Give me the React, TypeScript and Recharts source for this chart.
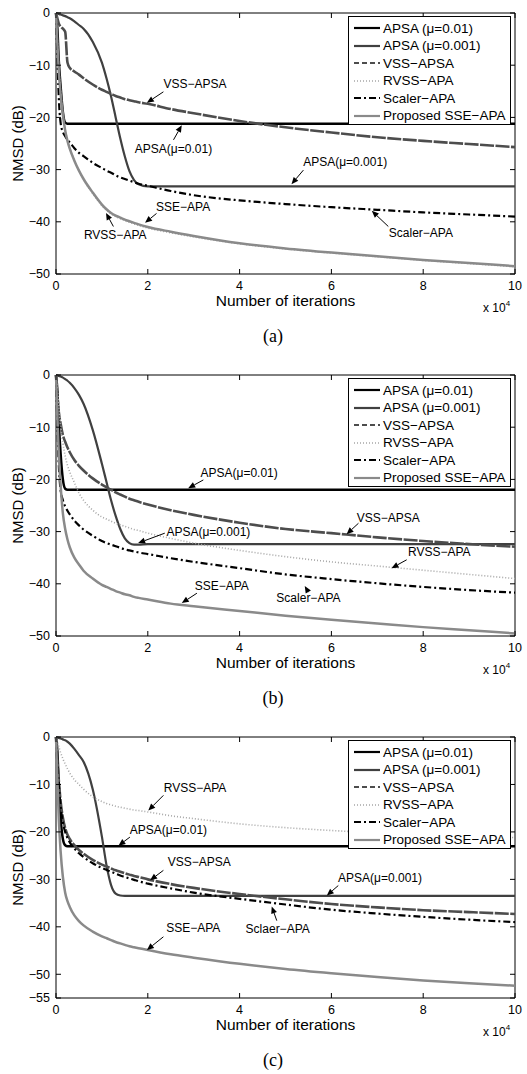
import React from 'react'
import { LineChart, Line, XAxis, YAxis, Legend, ReferenceLine, ReferenceDot, ReferenceArea } from 'recharts'

// iterations, in units of 10^4
const ITER = [0, 0.03, 0.06, 0.1, 0.15, 0.2, 0.25, 0.3, 0.4, 0.5, 0.6, 0.8, 1.0, 1.1, 1.2, 1.3, 1.4, 1.5, 1.6, 1.7, 1.8, 2.0, 2.5, 3, 4, 5, 6, 7, 8, 9, 10]
const X_TICKS = [0, 2, 4, 6, 8, 10]

// (a)
const A_APSA_01 = [0, -3, -9, -14, -19, -21, -21.2, -21.2, -21.2, -21.2, -21.2, -21.2, -21.2, -21.2, -21.2, -21.2, -21.2, -21.2, -21.2, -21.2, -21.2, -21.2, -21.2, -21.2, -21.2, -21.2, -21.2, -21.2, -21.2, -21.2, -21.2]
const A_APSA_001 = [0, -0.1, -0.2, -0.3, -0.45, -0.6, -0.8, -1.0, -1.6, -2.3, -3.0, -5.5, -9.5, -12.5, -16, -20, -24, -27.5, -30.3, -32, -32.8, -33.2, -33.2, -33.2, -33.2, -33.2, -33.2, -33.2, -33.2, -33.2, -33.2]
const A_VSS = [0, -1, -2, -2.6, -3, -3.6, -9.5, -10.5, -11.2, -11.8, -12.5, -13.7, -14.7, -15.1, -15.5, -15.9, -16.2, -16.5, -16.7, -16.9, -17.1, -17.4, -18.4, -19.2, -20.7, -21.9, -22.9, -23.8, -24.5, -25.1, -25.7]
const A_RVSS = [0, -5.5, -10.5, -15, -19.2, -22.3, -24.4, -25.9, -28.2, -30.2, -31.9, -34.6, -36.9, -37.8, -38.5, -39.0, -39.4, -39.8, -40.1, -40.4, -40.7, -41.2, -42.1, -42.9, -44.2, -45.2, -46.0, -46.7, -47.4, -48.0, -48.6]
const A_SCALER = [0, -8, -16, -21, -22.8, -23.6, -24.3, -24.8, -25.9, -26.8, -27.4, -28.7, -29.7, -30.2, -30.6, -31.1, -31.5, -31.8, -32.1, -32.4, -32.7, -33.1, -34.1, -34.9, -35.9, -36.6, -37.2, -37.7, -38.2, -38.6, -39.0]
const A_SSE = [0, -6, -11, -15.5, -19.5, -22.5, -24.5, -26, -28.3, -30.2, -31.8, -34.4, -36.7, -37.6, -38.3, -38.8, -39.2, -39.6, -39.9, -40.2, -40.5, -41.0, -41.9, -42.7, -44.1, -45.1, -45.9, -46.6, -47.3, -47.9, -48.5]

// (b)
const B_APSA_01 = [0, -3, -9, -15, -20, -21.8, -22, -22, -22, -22, -22, -22, -22, -22, -22, -22, -22, -22, -22, -22, -22, -22, -22, -22, -22, -22, -22, -22, -22, -22, -22]
const B_APSA_001 = [0, -0.1, -0.2, -0.3, -0.5, -0.8, -1.1, -1.5, -2.5, -3.8, -5.5, -10.5, -17, -20.5, -24, -27, -29.5, -31.3, -32.2, -32.5, -32.5, -32.4, -32.4, -32.4, -32.4, -32.4, -32.4, -32.4, -32.4, -32.4, -32.4]
const B_VSS = [0, -4, -7, -9.3, -11.5, -12.8, -13.9, -14.8, -16.3, -17.4, -18.3, -19.8, -21.0, -21.5, -22.0, -22.5, -22.9, -23.3, -23.7, -24.0, -24.3, -24.8, -25.9, -26.8, -28.3, -29.5, -30.3, -31.1, -31.8, -32.4, -32.9]
const B_RVSS = [0, -3, -6, -9.5, -13, -15.5, -17.3, -18.6, -20.6, -22.6, -24.0, -25.9, -27.2, -27.6, -28.0, -28.4, -28.7, -29.0, -29.3, -29.6, -29.8, -30.3, -31.3, -32.2, -33.6, -34.8, -35.8, -36.6, -37.4, -38.2, -39.0]
const B_SCALER = [0, -9, -17, -22, -24, -25.2, -26, -26.7, -27.9, -28.8, -29.6, -30.8, -31.8, -32.2, -32.5, -32.8, -33.1, -33.4, -33.6, -33.8, -34.0, -34.3, -35.1, -35.8, -37.0, -38.2, -39.1, -39.9, -40.6, -41.2, -41.7]
const B_SSE = [0, -8, -15, -21, -26.5, -29.5, -31.5, -33, -35, -36.3, -37.5, -39.0, -40.2, -40.6, -41.0, -41.4, -41.7, -42.0, -42.2, -42.5, -42.7, -43.0, -43.8, -44.3, -45.2, -46.1, -46.9, -47.6, -48.3, -48.9, -49.5]

// (c)
const C_APSA_01 = [0, -3, -10, -17, -21.5, -22.8, -23, -23, -23, -23, -23, -23, -23, -23, -23, -23, -23, -23, -23, -23, -23, -23, -23, -23, -23, -23, -23, -23, -23, -23, -23]
const C_APSA_001 = [0, -0.1, -0.2, -0.3, -0.5, -0.7, -1.0, -1.4, -2.5, -3.8, -5.2, -11, -21, -27, -31.2, -33, -33.4, -33.5, -33.5, -33.5, -33.5, -33.5, -33.5, -33.5, -33.5, -33.5, -33.5, -33.5, -33.5, -33.5, -33.5]
const C_VSS = [0, -5, -9, -13.5, -17, -19.2, -20.6, -21.5, -22.8, -23.8, -24.6, -25.9, -26.9, -27.3, -27.7, -28.1, -28.4, -28.7, -29.0, -29.3, -29.5, -30.0, -31.0, -31.8, -33.1, -34.2, -35.2, -35.9, -36.5, -36.9, -37.3]
const C_RVSS = [0, -1, -2, -3.3, -4.6, -5.7, -6.7, -7.6, -9.0, -10.0, -11.0, -12.6, -13.6, -14.0, -14.3, -14.6, -14.8, -15.0, -15.2, -15.4, -15.5, -15.8, -16.6, -17.2, -18.3, -19.1, -19.7, -20.2, -20.6, -20.9, -21.2]
const C_SCALER = [0, -6, -10, -14.5, -18, -20, -21.3, -22.2, -23.5, -24.5, -25.3, -26.6, -27.6, -28.0, -28.4, -28.8, -29.2, -29.5, -29.8, -30.1, -30.4, -30.9, -31.9, -32.8, -34.1, -35.3, -36.4, -37.2, -37.9, -38.5, -39.0]
const C_SSE = [0, -9, -17, -24, -29.5, -32.8, -34.6, -35.8, -37.6, -38.8, -39.7, -41.0, -42.0, -42.4, -42.8, -43.2, -43.5, -43.8, -44.1, -44.3, -44.5, -44.9, -45.8, -46.5, -47.8, -48.9, -49.8, -50.6, -51.3, -51.9, -52.4]

// annotations: label, text centre, arrow tail, arrow tip (data coords)
const A_NOTES = [
  { label: 'VSS−APSA', at: [3.03, -13.6], from: [2.34, -15.1], to: [1.98, -17.2] },
  { label: 'APSA(μ=0.01)', at: [2.56, -26.1], from: [2.56, -24.3], to: [2.74, -21.5] },
  { label: 'APSA(μ=0.001)', at: [6.3, -28.6], from: [5.39, -30.1], to: [5.13, -32.8] },
  { label: 'SSE−APA', at: [2.77, -37.1], from: [2.19, -38.4], to: [1.94, -40.2] },
  { label: 'RVSS−APA', at: [1.29, -42.5], from: [1.25, -40.9], to: [1.09, -38.3] },
  { label: 'Scaler−APA', at: [7.95, -42.2], from: [7.24, -40.9], to: [6.88, -37.9] },
]
const B_NOTES = [
  { label: 'APSA(μ=0.01)', at: [3.99, -18.8], from: [3.21, -20.1], to: [2.88, -21.7] },
  { label: 'VSS−APSA', at: [7.24, -27.3], from: [6.59, -28.4], to: [6.33, -30.5] },
  { label: 'APSA(μ=0.001)', at: [3.32, -30.0], from: [2.37, -30.3], to: [1.79, -32.2] },
  { label: 'RVSS−APA', at: [8.35, -34.0], from: [7.64, -35.4], to: [7.31, -37.0] },
  { label: 'Scaler−APA', at: [5.5, -42.8], from: [5.5, -41.6], to: [5.42, -40.4] },
  { label: 'SSE−APA', at: [3.61, -40.5], from: [3.07, -41.8], to: [2.74, -43.7] },
]
const C_NOTES = [
  { label: 'RVSS−APA', at: [3.03, -10.8], from: [2.34, -12.3], to: [2.01, -15.5] },
  { label: 'APSA(μ=0.01)', at: [2.45, -19.5], from: [1.61, -21.1], to: [1.36, -22.9] },
  { label: 'VSS−APSA', at: [3.12, -26.4], from: [2.34, -28.1], to: [2.05, -30.2] },
  { label: 'APSA(μ=0.001)', at: [7.06, -29.7], from: [6.15, -31.3], to: [5.9, -33.4] },
  { label: 'Sclaer−APA', at: [4.83, -40.4], from: [4.81, -38.7], to: [4.7, -35.7] },
  { label: 'SSE−APA', at: [2.99, -40.3], from: [2.34, -42.1], to: [1.98, -44.9] },
]

const SERIES = [
  { key: 'apsa01', name: 'APSA (μ=0.01)', stroke: '#000', width: 2.5 },
  { key: 'apsa001', name: 'APSA (μ=0.001)', stroke: '#404040', width: 2.2 },
  { key: 'vss', name: 'VSS−APSA', stroke: '#4d4d4d', width: 2.6, dash: '14 1.5', legendDash: '5 3' },
  { key: 'rvss', name: 'RVSS−APA', stroke: '#a6a6a6', width: 1.6, dash: '1 2' },
  { key: 'scaler', name: 'Scaler−APA', stroke: '#000', width: 2.2, dash: '7 3 2 3' },
  { key: 'sse', name: 'Proposed SSE−APA', stroke: '#8a8a8a', width: 2.5 },
]

const PANELS = [
  { id: 'a', top: 0, yMin: -50, yTicks: [0, -10, -20, -30, -40, -50], notes: A_NOTES,
    values: { apsa01: A_APSA_01, apsa001: A_APSA_001, vss: A_VSS, rvss: A_RVSS, scaler: A_SCALER, sse: A_SSE } },
  { id: 'b', top: 362, yMin: -50, yTicks: [0, -10, -20, -30, -40, -50], notes: B_NOTES,
    values: { apsa01: B_APSA_01, apsa001: B_APSA_001, vss: B_VSS, rvss: B_RVSS, scaler: B_SCALER, sse: B_SSE } },
  { id: 'c', top: 724, yMin: -55, yTicks: [0, -10, -20, -30, -40, -50, -55], notes: C_NOTES,
    values: { apsa01: C_APSA_01, apsa001: C_APSA_001, vss: C_VSS, rvss: C_RVSS, scaler: C_SCALER, sse: C_SSE } },
]

const W = 527
const H = 318
const PLOT_W = 459
const PLOT_H = 261

const fmt = (v: number) => (v < 0 ? '−' + Math.abs(v) : String(v))

function XTick(props: any) {
  const { x, y, payload } = props
  const base = y - 7
  return (
    <g>
      <line x1={x} x2={x} y1={base} y2={base - 5} stroke="#000" />
      <line x1={x} x2={x} y1={base - PLOT_H} y2={base - PLOT_H + 5} stroke="#000" />
      <text x={x} y={y} dy="0.71em" textAnchor="middle" fontSize={12.5} fill="#000">{payload.value}</text>
    </g>
  )
}

function YTick(props: any) {
  const { x, y, payload } = props
  const base = x + 6
  return (
    <g>
      <line x1={base} x2={base + 5} y1={y} y2={y} stroke="#000" />
      <line x1={base + PLOT_W} x2={base + PLOT_W - 5} y1={y} y2={y} stroke="#000" />
      <text x={x} y={y} dy="0.35em" textAnchor="end" fontSize={12.5} fill="#000">{fmt(payload.value)}</text>
    </g>
  )
}

function Arrow(p: any) {
  const { x1, y1, x2, y2 } = p
  const a = Math.atan2(y2 - y1, x2 - x1)
  const L = 7, S = 3
  const bx = x2 - L * Math.cos(a), by = y2 - L * Math.sin(a)
  const pts = `${x2},${y2} ${bx - S * Math.sin(a)},${by + S * Math.cos(a)} ${bx + S * Math.sin(a)},${by - S * Math.cos(a)}`
  return (
    <g>
      <line x1={x1} y1={y1} x2={bx} y2={by} stroke="#000" strokeWidth={1} />
      <polygon points={pts} fill="#000" />
    </g>
  )
}

function LegendBox() {
  return (
    <div style={{ boxSizing: 'border-box', width: 163, height: 109, border: '1px solid #000', background: '#fff', padding: '2.5px 0 0 5px' }}>
      {SERIES.map((s) => (
        <div key={s.key} style={{ display: 'flex', alignItems: 'center', height: 17.5 }}>
          <svg width={26} height={10} style={{ flex: 'none' }}>
            <line x1={0} x2={26} y1={5} y2={5} stroke={s.stroke} strokeWidth={Math.min(s.width, 2.2)} strokeDasharray={s.legendDash ?? s.dash} />
          </svg>
          <span style={{ marginLeft: 3, fontSize: 13.5, color: '#000', whiteSpace: 'nowrap', lineHeight: '17.5px' }}>{s.name}</span>
        </div>
      ))}
    </div>
  )
}

function Panel({ p }: { p: any }) {
  const rows = ITER.map((x, i) => {
    const r: any = { x }
    SERIES.forEach((s) => { r[s.key] = p.values[s.key][i] })
    return r
  })
  return (
    <div style={{ position: 'absolute', left: 0, top: p.top, width: W, height: 360 }}>
      <LineChart width={W} height={H} data={rows} margin={{ top: 13, right: 12, left: 0, bottom: 12 }}>
        <XAxis dataKey="x" type="number" domain={[0, 10]} ticks={X_TICKS} interval={0} height={32}
          axisLine={false} tickLine={false} tickSize={0} tickMargin={7} tick={<XTick />}
          label={{ value: 'Number of iterations', position: 'insideBottom', offset: 0, fontSize: 15.5, fill: '#000' }} />
        <YAxis type="number" domain={[p.yMin, 0]} ticks={p.yTicks} interval={0} width={56}
          axisLine={false} tickLine={false} tickSize={0} tickMargin={6} tick={<YTick />}
          label={{ value: 'NMSD (dB)', angle: -90, position: 'insideLeft', offset: 17.5, fontSize: 15, fill: '#000', style: { textAnchor: 'middle' } }} />
        <ReferenceArea x1={0} x2={10} y1={p.yMin} y2={0} fill="none" fillOpacity={0} stroke="#000" strokeWidth={1} />
        {SERIES.map((s) => (
          <Line key={s.key} dataKey={s.key} name={s.name} type="monotone" stroke={s.stroke} strokeWidth={s.width}
            strokeDasharray={s.dash} dot={false} activeDot={false} isAnimationActive={false} />
        ))}
        {p.notes.map((n: any, i: number) => (
          <ReferenceLine key={'ar' + i} segment={[{ x: n.from[0], y: n.from[1] }, { x: n.to[0], y: n.to[1] }]}
            shape={Arrow} ifOverflow="visible" />
        ))}
        {p.notes.map((n: any, i: number) => (
          <ReferenceDot key={'tx' + i} x={n.at[0]} y={n.at[1]} r={0} ifOverflow="visible"
            shape={(q: any) => (
              <text x={q.cx} y={q.cy} textAnchor="middle" dominantBaseline="central" fontSize={12} fill="#000">{n.label}</text>
            )} />
        ))}
        <Legend layout="vertical" align="center" verticalAlign="middle" content={() => <LegendBox />}
          wrapperStyle={{ left: 348, top: 16, width: 163, height: 109 }} />
      </LineChart>
      <div style={{ position: 'absolute', left: 483, top: 301, fontSize: 12, lineHeight: '14px', whiteSpace: 'nowrap' }}>
        x 10<span style={{ fontSize: 8, position: 'relative', top: -6 }}>4</span>
      </div>
      <div style={{ position: 'absolute', left: 243, top: 326, width: 60, textAlign: 'center', fontFamily: '"Liberation Serif", "Times New Roman", serif', fontSize: 18, lineHeight: '20px' }}>
        ({p.id})
      </div>
    </div>
  )
}

export default function App() {
  return (
    <div style={{ position: 'absolute', left: 0, top: 0, width: W, height: 1074, background: '#fff', color: '#000', fontFamily: '"Liberation Sans", Arial, sans-serif' }}>
      {PANELS.map((p) => <Panel key={p.id} p={p} />)}
    </div>
  )
}
